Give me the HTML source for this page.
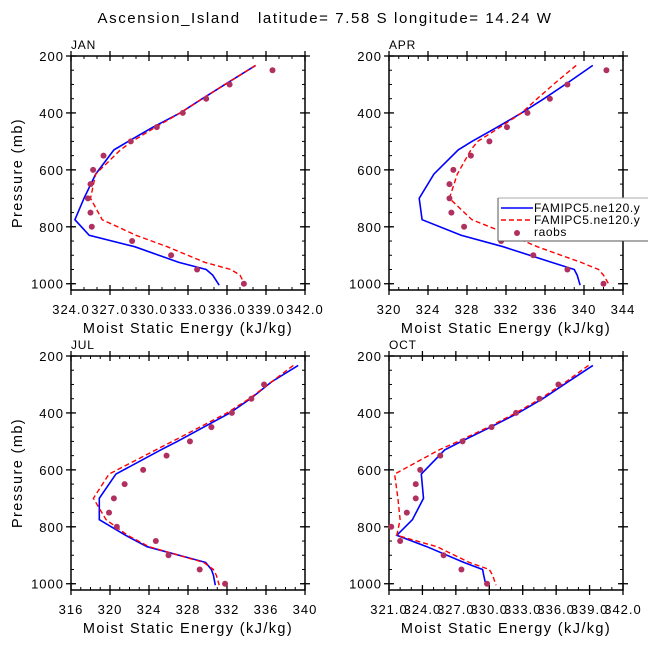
<!DOCTYPE html>
<html><head><meta charset="utf-8">
<style>
body{margin:0;background:#fff;}
svg{display:block;font-family:"Liberation Sans",sans-serif;}
</style></head>
<body>
<svg id="chart" width="648" height="649" viewBox="0 0 648 649" xmlns="http://www.w3.org/2000/svg">
<text x="325" y="23" text-anchor="middle" font-size="15" letter-spacing="1.6" fill="#000" xml:space="preserve">Ascension_Island   latitude= 7.58 S longitude= 14.24 W</text>
</svg>
<script>
const levels = [233,290,350,400,450,500,530,615,700,775,830,870,925,950,970,1005];
const obsLevels = [250,300,350,400,450,500,550,600,650,700,750,800,850,900,950,1000];
const months = ["JAN","APR","JUL","OCT"];
const xMins = [324,320,316,321];
const xMaxs = [342,344,340,342];
const xSteps = [3,4,4,3];
const xDecimals = [1,0,0,1];
const blueJAN = [338.2,336.2,334.1,332.4,330.3,328.4,327.3,325.9,325.0,324.3,325.4,328.9,332.3,334.4,334.9,335.4];
const redJAN  = [338.2,336.2,334.1,332.4,330.5,328.7,327.8,325.9,325.5,326.4,329.0,331.4,334.3,336.3,337.0,337.4];
const obsJAN  = [339.5,336.2,334.4,332.6,330.6,328.6,326.5,325.7,325.5,325.3,325.5,325.6,328.7,331.7,333.7,337.3];
const blueAPR = [340.9,338.5,335.9,333.6,331.1,328.5,327.1,324.6,323.1,323.4,327.4,331.7,336.7,339.0,339.3,339.6];
const redAPR  = [339.2,337.2,335.2,333.6,331.4,329.1,328.4,327.0,326.2,328.5,332.5,335.2,339.7,341.5,342.0,342.6];
const obsAPR  = [342.3,338.3,336.5,334.2,332.1,330.3,328.4,326.6,326.2,326.2,326.4,327.7,331.5,334.8,338.3,342.0];
const blueJUL = [339.3,336.6,334.4,332.3,329.6,326.9,325.2,320.6,318.9,318.9,321.6,323.8,329.8,330.4,330.6,330.8];
const redJUL  = [338.8,336.6,334.3,332.0,329.2,326.4,324.7,319.9,318.3,319.6,321.8,324.0,329.6,330.6,330.9,331.2];
const obsJUL  = [null,335.8,334.5,332.5,330.4,328.2,325.8,323.4,321.5,320.4,319.9,320.7,324.7,326.0,329.2,331.8];
const blueOCT = [339.3,337.1,334.8,332.6,330.1,327.5,326.0,323.9,324.1,323.1,321.7,324.4,327.7,329.4,329.5,329.7];
const redOCT  = [338.9,336.9,334.6,332.4,329.9,327.2,325.5,321.5,321.8,322.0,321.7,325.3,328.2,330.0,330.3,330.6];
const obsOCT  = [null,336.2,334.5,332.4,330.2,327.6,325.6,323.8,323.4,323.4,322.6,321.2,322.0,325.9,327.5,329.8];
const blueSeries = [blueJAN,blueAPR,blueJUL,blueOCT];
const redSeries = [redJAN,redAPR,redJUL,redOCT];
const obsSeries = [obsJAN,obsAPR,obsJUL,obsOCT];
const yTicks = [200,400,600,800,1000];
const legendLabels = ["FAMIPC5.ne120.y","FAMIPC5.ne120.y","raobs"];

const NS="http://www.w3.org/2000/svg";
const svg=document.getElementById('chart');
function mk(tag,attrs,parent){const e=document.createElementNS(NS,tag);for(const k in attrs)e.setAttribute(k,attrs[k]);(parent||svg).appendChild(e);return e;}
const boxes=[[71,56],[389,56],[71,356],[389,356]];
const W=234,H=234,PTOP=200,PBOT=1022;

for(let i=0;i<4;i++){
  const [bx,by]=boxes[i];
  const g=mk('g',{});
  
  
  const xs=v=>bx+(v-xMins[i])/(xMaxs[i]-xMins[i])*W;
  const ys=p=>by+(p-PTOP)/(PBOT-PTOP)*H;
  for(let v=xMins[i];v<=xMaxs[i]+1e-6;v+=1){
    const x=xs(v);
    mk('line',{x1:x,x2:x,y1:by+H,y2:by+H-3,stroke:'#000','stroke-width':1},g);
    mk('line',{x1:x,x2:x,y1:by,y2:by+3,stroke:'#000','stroke-width':1},g);
  }
  for(let p=200;p<=1000;p+=50){
    const y=ys(p);
    mk('line',{x1:bx,x2:bx+3,y1:y,y2:y,stroke:'#000','stroke-width':1},g);
    mk('line',{x1:bx+W,x2:bx+W-3,y1:y,y2:y,stroke:'#000','stroke-width':1},g);
  }
  for(let v=xMins[i];v<=xMaxs[i]+1e-6;v+=xSteps[i]){
    const x=xs(v);
    mk('line',{x1:x,x2:x,y1:by+H+5,y2:by+H-5,stroke:'#000','stroke-width':1.3},g);
    mk('line',{x1:x,x2:x,y1:by-5,y2:by+5,stroke:'#000','stroke-width':1.3},g);
    const t=mk('text',{x:x,y:by+H+24,'text-anchor':'middle','font-size':13,'letter-spacing':1,fill:'#000'},g);
    
    
    t.textContent=v.toFixed(xDecimals[i]);
  }
  for(const p of yTicks){
    const y=ys(p);
    mk('line',{x1:bx-5,x2:bx+5,y1:y,y2:y,stroke:'#000','stroke-width':1.3},g);
    mk('line',{x1:bx+W-5,x2:bx+W+5,y1:y,y2:y,stroke:'#000','stroke-width':1.3},g);
    const t=mk('text',{x:bx-7,y:y+5,'text-anchor':'end','font-size':13,'letter-spacing':1,fill:'#000'},g);
    
    
    t.textContent=p;
  }
  const fr=mk('rect',{x:bx,y:by,width:W,height:H,fill:'none',stroke:'#000','stroke-width':1.5},g);
  
  
  const ml=mk('text',{x:bx,y:by-7,'font-size':12,'letter-spacing':0.8,fill:'#000'},g);
  
  
  ml.textContent=months[i];
  const xt=mk('text',{x:bx+W/2,y:by+H+43,'text-anchor':'middle','font-size':14.5,'letter-spacing':1.4,fill:'#000'},g);
  
  
  xt.textContent='Moist Static Energy (kJ/kg)';
  if(i%2===0){
    const yt=mk('text',{x:0,y:0,'text-anchor':'middle','font-size':14.5,'letter-spacing':1.4,fill:'#000',transform:`translate(22,${by+H/2}) rotate(-90)`},g);
    
    
    yt.textContent='Pressure (mb)';
  }
  const pts=s=>s.map((v,k)=>xs(v).toFixed(1)+','+ys(levels[k]).toFixed(1)).join(' ');
  const bl=mk('polyline',{points:pts(blueSeries[i]),fill:'none',stroke:'#0000ff','stroke-width':1.6},g);
  
  
  const rl=mk('polyline',{points:pts(redSeries[i]),fill:'none',stroke:'#ff0000','stroke-width':1.4,'stroke-dasharray':'5,3'},g);
  
  
  obsSeries[i].forEach((v,k)=>{
    if(v===null)return;
    const c=mk('circle',{cx:xs(v),cy:ys(obsLevels[k]),r:3,fill:'#b03060'},g);
    
    
  });
}
const lg=mk('g',{});


mk('rect',{x:498,y:198,width:150,height:43,fill:'#fff',stroke:'none'},lg);
mk('line',{x1:498,x2:648,y1:198,y2:198,stroke:'#aaa','stroke-width':1},lg);
mk('line',{x1:498,x2:648,y1:241,y2:241,stroke:'#555','stroke-width':1},lg);
mk('line',{x1:498,x2:498,y1:198,y2:241,stroke:'#555','stroke-width':1},lg);
mk('line',{x1:501,x2:533,y1:208,y2:208,stroke:'#0000ff','stroke-width':1.6},lg);
mk('line',{x1:501,x2:533,y1:220,y2:220,stroke:'#ff0000','stroke-width':1.4,'stroke-dasharray':'5,3'},lg);
mk('circle',{cx:517,cy:233,r:3,fill:'#b03060'},lg);
legendLabels.forEach((s,k)=>{
  const t=mk('text',{x:534,y:212+k*12,'font-size':12,'letter-spacing':0.6,fill:'#000'},lg);
  
  
  t.textContent=s;
});
</script>
</body></html>
